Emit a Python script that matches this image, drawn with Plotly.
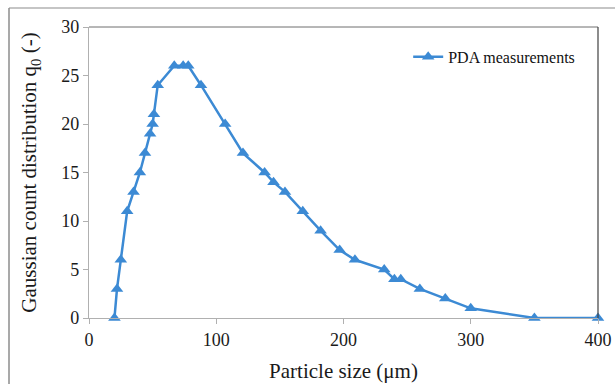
import plotly.graph_objects as go

particle_size = [20, 22, 25, 30, 35, 40, 44, 48, 50, 51, 54, 67, 74, 78, 88,
                 107, 121, 138, 145, 154, 168, 182, 197, 209, 232, 240, 245,
                 260, 280, 300, 350, 400]
q0 = [0, 3, 6, 11, 13, 15, 17, 19, 20, 21, 24, 26, 26, 26, 24,
      20, 17, 15, 14, 13, 11, 9, 7, 6, 5, 4, 4,
      3, 2, 1, 0, 0]
series_name = "PDA measurements"
x_title = "Particle size (μm)"
y_title = "Gaussian count distribution q<sub>0</sub> (-)"

BLUE = "#3C8AD4"
FONT = "Liberation Serif"
TXT = "#1a1a1a"

fig = go.Figure()
fig.add_trace(go.Scatter(
    x=particle_size, y=q0, mode="lines+markers", name=series_name,
    line=dict(color=BLUE, width=2.5),
    marker=dict(symbol="triangle-up", size=11, color=BLUE),
    cliponaxis=False,
))

W, H = 615, 384
L, R, T, B = 89, 17, 27, 66
pw, ph = W - L - R, H - T - B

def px_to_paper_x(px):
    return (px - L) / pw

def px_to_paper_y(py):
    return (H - B - py) / ph

shapes = [
    dict(type="line", xref="paper", yref="paper",
         x0=px_to_paper_x(9), x1=px_to_paper_x(620),
         y0=px_to_paper_y(8), y1=px_to_paper_y(8),
         line=dict(color="#8C8C8C", width=1.2)),
    dict(type="line", xref="paper", yref="paper",
         x0=px_to_paper_x(9), x1=px_to_paper_x(9),
         y0=px_to_paper_y(8), y1=px_to_paper_y(390),
         line=dict(color="#8C8C8C", width=1.5)),
    dict(type="line", xref="paper", yref="paper", x0=0, x1=1, y0=1, y1=1,
         line=dict(color="#6E6E6E", width=1)),
    dict(type="line", xref="paper", yref="paper", x0=1, x1=1, y0=0, y1=1,
         line=dict(color="#404040", width=1.2)),
]

fig.update_layout(
    width=W, height=H,
    margin=dict(l=L, r=R, t=T, b=B),
    paper_bgcolor="white", plot_bgcolor="white",
    font=dict(family=FONT, color=TXT, size=18),
    showlegend=True,
    legend=dict(x=0.965, y=0.897, xanchor="right", yanchor="middle",
                bgcolor="rgba(0,0,0,0)", font=dict(size=16, family=FONT, color="#111111"),
                itemwidth=30),
    shapes=shapes,
)
fig.update_xaxes(
    range=[0, 400], dtick=100, tick0=0, automargin=False,
    showgrid=False, zeroline=False,
    showline=True, linecolor="#B0B0B0", linewidth=1.2,
    ticks="outside", ticklen=5, tickcolor="#B0B0B0",
    tickfont=dict(size=18, family=FONT, color=TXT),
    title=dict(text=x_title, font=dict(size=21, family=FONT, color=TXT), standoff=14),
)
fig.update_yaxes(
    range=[0, 30], dtick=5, tick0=0, automargin=False,
    showgrid=False, zeroline=False,
    showline=True, linecolor="#B0B0B0", linewidth=1.2,
    ticks="outside", ticklen=5, tickcolor="#B0B0B0",
    tickfont=dict(size=18, family=FONT, color=TXT),
    title=dict(text=y_title, font=dict(size=21, family=FONT, color=TXT), standoff=18),
)

fig.write_html("out.html")
